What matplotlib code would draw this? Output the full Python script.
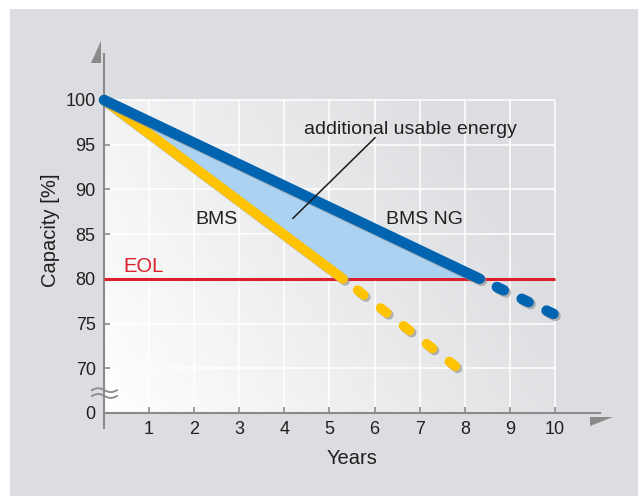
import numpy as np
import matplotlib
matplotlib.use("Agg")
import matplotlib.pyplot as plt
import matplotlib.patheffects as pe
from matplotlib.patches import Rectangle

plt.rcParams['font.family'] = ['Liberation Sans', 'DejaVu Sans']
plt.rcParams['lines.scale_dashes'] = False

# axis values
year_ticks = [1, 2, 3, 4, 5, 6, 7, 8, 9, 10]
cap_ticks = [65, 70, 75, 80, 85, 90, 95, 100]   # 65 stands in for the broken 0
cap_labels = ['0', '70', '75', '80', '85', '90', '95', '100']

# capacity fade, conventional BMS vs. BMS NG
bms_years = [0, 5.3, 7.85]
bms_cap = [100, 80, 70]
ng_years = [0, 8.33, 10]
ng_cap = [100, 80, 76]
eol_cap = 80

BG = '#dcdde0'
AXIS = '#8a8a8a'
TXT = '#231f20'
YELLOW = '#ffc300'
BLUE = '#0064b1'
RED = '#da1f2d'
FILL = '#abd3f1'

fig = plt.figure(figsize=(6.38, 4.96), dpi=100)
fig.patch.set_facecolor('white')
fig.add_artist(Rectangle((10 / 638, 0), 1, 487 / 496, transform=fig.transFigure,
                         facecolor=BG, edgecolor='none', zorder=-10))

ax = fig.add_axes([104 / 638, 68 / 496, 496 / 638, 374 / 496])
ax.set_facecolor('none')
ax.set_xlim(0, 10.998)
ax.set_ylim(63.32, 105.14)

# plot area background: white at lower left fading to grey
u = np.linspace(0, 1, 300)
v = np.linspace(1, 0, 200)
uu, vv = np.meshgrid(u, v)
t = np.clip(0.85 * uu + 0.35 * vv, 0, 1)[..., None]
white = np.array([1.0, 1.0, 1.0])
grey = np.array(matplotlib.colors.to_rgb(BG))
ax.imshow(white * (1 - t) + grey * t, extent=(0, 10, 65, 100), aspect='auto',
          zorder=0, interpolation='bilinear')

ax.vlines(year_ticks, 65, 100, color='white', lw=1.1, zorder=1)
ax.hlines(cap_ticks[1:], 0, 10, color='white', lw=1.1, zorder=1)

# spines and ticks
for s in ['top', 'right']:
    ax.spines[s].set_visible(False)
ax.spines['left'].set_color(AXIS)
ax.spines['left'].set_linewidth(1.5)
ax.spines['bottom'].set_color(AXIS)
ax.spines['bottom'].set_linewidth(1.5)
ax.spines['bottom'].set_position(('data', 65))
ax.set_xticks(year_ticks)
ax.set_xticklabels([str(y) for y in year_ticks])
ax.set_yticks(cap_ticks)
ax.set_yticklabels(cap_labels)
ax.tick_params(axis='both', direction='in', length=4, width=1.2, color=AXIS,
               labelsize=13, labelcolor=TXT)
ax.tick_params(axis='x', pad=6)
ax.tick_params(axis='y', pad=6)

# arrow heads on the axes
ax.fill([-0.288, -0.066, -0.066], [104.14, 104.14, 106.6], color=AXIS, clip_on=False, lw=0)
ax.fill([10.776, 10.776, 11.286], [63.55, 64.55, 64.55], color=AXIS, clip_on=False, lw=0)

# axis break marks
xs = np.linspace(-0.27, 0.29, 50)
wave = 0.22 * np.sin(2 * np.pi * (xs - xs[0]) / (xs[-1] - xs[0]))
for yb in [67.55, 66.9]:
    ax.plot(xs, yb + wave, color=AXIS, lw=1.3, clip_on=False, zorder=5)

# gained energy between the two curves down to EOL
ax.fill(bms_years[:2] + ng_years[1::-1], bms_cap[:2] + ng_cap[1::-1],
        color=FILL, lw=0, zorder=2)

ax.hlines(eol_cap, 0, 10, color=RED, lw=2.2, zorder=3)

shadow = [pe.SimpleLineShadow(offset=(1.5, -1.5), shadow_color='#8c8c8c', alpha=0.6),
          pe.Normal()]

ax.plot(bms_years[:2], bms_cap[:2], color=YELLOW, lw=7.0, solid_capstyle='round',
        path_effects=shadow, zorder=4, clip_on=False)
ax.plot(bms_years[1:], bms_cap[1:], color=YELLOW, lw=7.0,
        linestyle=(7.5, (5.5, 15.4)), dash_capstyle='round',
        path_effects=shadow, zorder=4, clip_on=False)
ax.plot(ng_years[:2], ng_cap[:2], color=BLUE, lw=7.6, solid_capstyle='round',
        path_effects=shadow, zorder=5, clip_on=False)
ax.plot(ng_years[1:], ng_cap[1:], color=BLUE, lw=7.6,
        linestyle=(6.1, (5.5, 14.3)), dash_capstyle='round',
        path_effects=shadow, zorder=5, clip_on=False)

# labels
ax.text(0.42, 80.77, 'EOL', color=RED, fontsize=14.5, ha='left', va='baseline', zorder=6)
ax.text(2.5, 86.6, 'BMS', color=TXT, fontsize=14, ha='center', va='center', zorder=6)
ax.text(7.1, 86.6, 'BMS NG', color=TXT, fontsize=14, ha='center', va='center', zorder=6)
ax.text(6.8, 96.16, 'additional usable energy', color=TXT, fontsize=14,
        ha='center', va='baseline', zorder=6)
ax.plot([4.19, 6.01], [86.77, 95.78], color='#1a1a1a', lw=1.1, zorder=6)

ax.set_xlabel('Years', fontsize=14.5, color=TXT)
ax.xaxis.set_label_coords(0.5, -0.055)
ax.set_ylabel('Capacity [%]', fontsize=14.5, color=TXT)
ax.yaxis.set_label_coords(-0.088, 0.53)

fig.savefig('out.png', dpi=100, facecolor=fig.get_facecolor())
